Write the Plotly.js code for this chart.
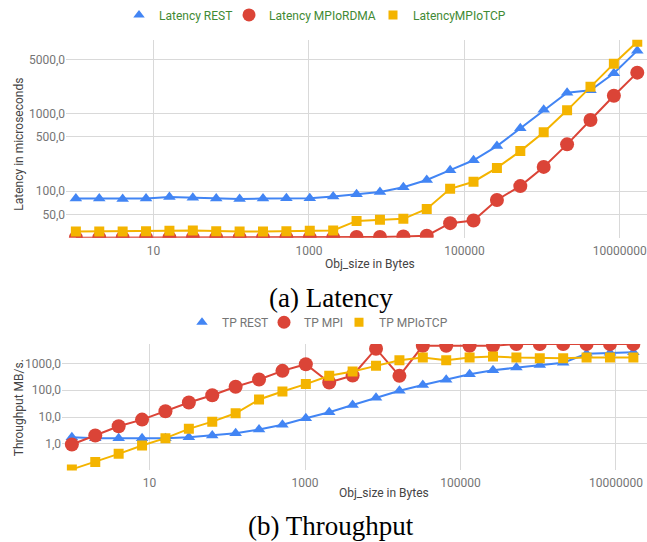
<!DOCTYPE html>
<html>
<head>
<meta charset="utf-8">
<script src="https://cdn.plot.ly/plotly-3.0.1.min.js"></script>
<style>html,body{margin:0;padding:0;background:#fff;}#chart{width:647px;height:542px;}</style>
</head>
<body>
<div id="chart"></div>
<script>
// ---- data ----
const objSizes = [1,2,4,8,16,32,64,128,256,512,1024,2048,4096,8192,16384,32768,65536,131072,262144,524288,1048576,2097152,4194304,8388608,16777216];

const latencyRest    = [80,80,79,80,84,82,80,79,80,81,81,85,91,97,112,139,186,250,381,649,1118,1855,2000,3311,6500];
const latencyMPIRDMA = [25,25,25,25,25,25,25,25,25,25,25,25,25.5,25.5,25.9,26.5,38.5,41.6,76.7,116,205,401,828,1703,3381];
const latencyMPITCP  = [30.1,30.1,30.1,30.3,30.7,31.0,30.3,30.1,30.1,30.3,30.7,31.0,41.2,42.7,43.8,58.7,107,132,199,328,575,1102,2218,4415,8450];

const tpRest   = [1.76,1.62,1.62,1.62,1.62,1.76,2.04,2.48,3.4,5.1,8.95,15,28,52,96,156,245,399,562,705,870,1070,2300,2540,2650];
const tpMPI    = [0.94,2.04,4.5,8.0,16.3,35,65,135,251,531,942,195,355,3580,346,4600,4600,4600,4600,5300,5300,5300,5300,5300,5300];
const tpMPITCP = [0.11,0.21,0.42,0.86,1.62,3.6,6.7,13.8,45,90,170,346,502,815,1320,1660,1320,1660,1810,1660,1575,1575,1660,1660,1660];

const latencyNames = ['Latency REST','Latency MPIoRDMA','LatencyMPIoTCP'];
const tpNames      = ['TP REST','TP MPI','TP MPIoTCP'];

const xTickVals  = [10,1000,100000,10000000];
const xTickText  = ['10','1000','100000','10000000'];
const latTickVals = [50,100,500,1000,5000];
const latTickText = ['50,0','100,0','500,0','1000,0','5000,0'];
const tpTickVals  = [1,10,100,1000];
const tpTickText  = ['1,0','10,0','100,0','1000,0'];

// ---- style ----
const W = 647, H = 542;
const px = v => v / W;
const py = v => (H - v) / H;
const COLORS = ['#4285F4','#DB4437','#F4B400'];
const SYMBOLS = ['triangle-up','circle','square'];
const SIZES = [11,14,10];
const FONT = 'Roboto, "Noto Sans", sans-serif';

function lineTrace(y, i, xa, ya) {
  return {
    x: objSizes, y: y, type: 'scatter', mode: 'lines+markers',
    xaxis: xa, yaxis: ya, showlegend: false, cliponaxis: true,
    line: {color: COLORS[i], width: 2},
    marker: {color: COLORS[i], symbol: SYMBOLS[i], size: SIZES[i]},
    hoverinfo: 'x+y'
  };
}
function legendTrace(name, i, xa, ya, lg) {
  return {
    x: [null], y: [null], type: 'scatter', mode: 'markers', name: name,
    xaxis: xa, yaxis: ya, legend: lg, showlegend: true,
    marker: {color: COLORS[i], symbol: SYMBOLS[i], size: SIZES[i] - 1}
  };
}

const data = [
  lineTrace(latencyRest, 0, 'x', 'y'),
  lineTrace(latencyMPIRDMA, 1, 'x', 'y'),
  lineTrace(latencyMPITCP, 2, 'x', 'y'),
  lineTrace(tpRest, 0, 'x2', 'y2'),
  lineTrace(tpMPI, 1, 'x2', 'y2'),
  lineTrace(tpMPITCP, 2, 'x2', 'y2'),
  legendTrace(latencyNames[0], 0, 'x', 'y', 'legend'),
  legendTrace(latencyNames[1], 1, 'x', 'y', 'legend2'),
  legendTrace(latencyNames[2], 2, 'x', 'y', 'legend3'),
  legendTrace(tpNames[0], 0, 'x2', 'y2', 'legend4'),
  legendTrace(tpNames[1], 1, 'x2', 'y2', 'legend5'),
  legendTrace(tpNames[2], 2, 'x2', 'y2', 'legend6')
];

function legendAt(textStartPx, centerYPx, color) {
  return {
    x: px(textStartPx - 38), y: py(centerYPx), xanchor: 'left', yanchor: 'middle',
    orientation: 'h', bgcolor: 'rgba(0,0,0,0)', borderwidth: 0,
    font: {family: FONT, size: 12, color: color},
    itemclick: false, itemdoubleclick: false
  };
}

const gridColor = '#d9d9d9';
const tickFont = {family: FONT, size: 12, color: '#757575'};
function xAxis(domainLeft, range, anchor) {
  return {
    type: 'log', domain: [px(domainLeft), 1], range: range, anchor: anchor,
    tickvals: xTickVals, ticktext: xTickText, tickfont: tickFont,
    ticklabeloverflow: 'allow', ticklabelstandoff: 4,
    showgrid: true, gridcolor: gridColor, gridwidth: 1,
    zeroline: false, showline: false, ticks: '', fixedrange: true
  };
}
function yAxis(top, bottom, range, vals, text, anchor) {
  return {
    type: 'log', domain: [py(bottom), py(top)], range: range, anchor: anchor,
    tickvals: vals, ticktext: text, tickfont: tickFont,
    showgrid: true, gridcolor: gridColor, gridwidth: 1,
    zeroline: false, showline: false, ticks: '', fixedrange: true
  };
}

const titleFont = {family: FONT, size: 12, color: '#444444'};
const captionFont = {family: '"Liberation Serif", "DejaVu Serif", serif', size: 27, color: '#000000'};
function note(text, xPx, yPx, font, angle) {
  return {
    text: text, xref: 'paper', yref: 'paper', x: px(xPx), y: py(yPx),
    xanchor: 'center', yanchor: 'middle', showarrow: false,
    font: font, textangle: angle || 0
  };
}

const layout = {
  width: W, height: H,
  margin: {l: 0, r: 0, t: 0, b: 0, pad: 0},
  paper_bgcolor: '#ffffff', plot_bgcolor: '#ffffff',
  font: {family: FONT},
  xaxis: xAxis(66, [-0.127, 7.35], 'y'),
  yaxis: yAxis(37, 236, [1.398, 3.953], latTickVals, latTickText, 'x'),
  xaxis2: xAxis(62, [-0.127, 7.40], 'y2'),
  yaxis2: yAxis(343, 470, [-0.996, 3.725], tpTickVals, tpTickText, 'x2'),
  legend:  legendAt(157, 12, '#3f8a34'),
  legend2: legendAt(267, 12, '#3f8a34'),
  legend3: legendAt(411, 12, '#3f8a34'),
  legend4: legendAt(220, 321, '#757575'),
  legend5: legendAt(302, 321, '#757575'),
  legend6: legendAt(377, 321, '#757575'),
  annotations: [
    note('Latency in microseconds', 19, 142.5, titleFont, -90),
    note('Obj_size in Bytes', 370, 262, titleFont),
    note('(a) Latency', 331, 297, captionFont),
    note('Throughput MB/s.', 19, 407.5, titleFont, -90),
    note('Obj_size in Bytes', 384, 493, titleFont),
    note('(b) Throughput', 331, 526, captionFont)
  ],
  showlegend: true
};

Plotly.newPlot('chart', data, layout, {displayModeBar: false, staticPlot: true});
</script>
</body>
</html>
